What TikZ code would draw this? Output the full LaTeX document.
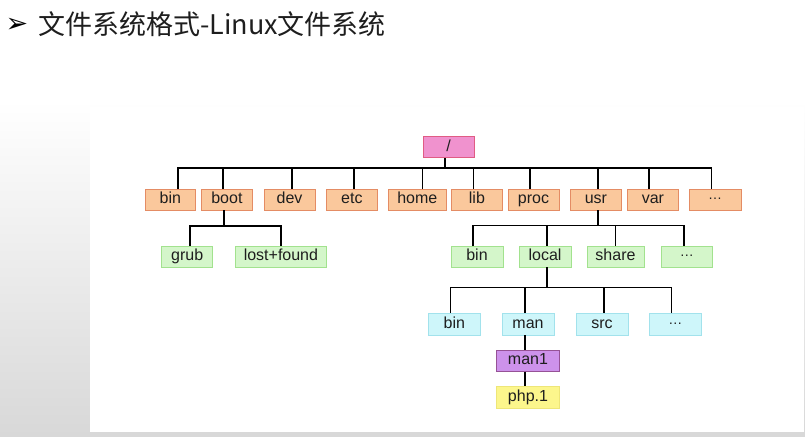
\documentclass[tikz,border=0pt]{standalone}
\usepackage{fontspec}
\setmainfont{Liberation Sans}
\newfontfamily\cjkfont{Noto Sans CJK SC}
\newfontfamily\symfont{DejaVu Sans}
\definecolor{orfill}{RGB}{250,200,156}
\definecolor{ordraw}{RGB}{228,140,100}
\definecolor{grfill}{RGB}{212,246,202}
\definecolor{grdraw}{RGB}{162,226,142}
\definecolor{cyfill}{RGB}{206,246,250}
\definecolor{cydraw}{RGB}{162,226,236}
\definecolor{pkfill}{RGB}{240,146,206}
\definecolor{pkdraw}{RGB}{224,92,132}
\definecolor{pufill}{RGB}{205,146,235}
\definecolor{pudraw}{RGB}{150,82,150}
\definecolor{yefill}{RGB}{252,246,140}
\definecolor{yedraw}{RGB}{238,230,120}
\definecolor{txt}{RGB}{30,30,30}
\definecolor{bggray}{RGB}{216,216,216}
\newcommand{\mydots}{\raisebox{4pt}{\fontsize{14}{14}\selectfont …}}
\begin{document}
\begin{tikzpicture}[x=1pt,y=-1pt,
  box/.style={rectangle, inner sep=0pt, minimum height=21pt, line width=0.9pt,
    font=\fontsize{16}{16}\selectfont, text=txt, text height=11.5pt, text depth=3pt},
  orbox/.style={box, fill=orfill, draw=ordraw},
  grbox/.style={box, fill=grfill, draw=grdraw},
  cybox/.style={box, fill=cyfill, draw=cydraw},
  pkbox/.style={box, fill=pkfill, draw=pkdraw},
  pubox/.style={box, fill=pufill, draw=pudraw},
  yebox/.style={box, fill=yefill, draw=yedraw},
  link/.style={draw=black, line width=1.5pt}]
\useasboundingbox (0,0) rectangle (805,436);
% background
\fill[white] (0,0) rectangle (805,100);
\shade[top color=white, bottom color=bggray] (0,100) rectangle (805,436);
\fill[white] (90,107) rectangle (804,432);
% title
\node[font=\symfont\fontsize{27}{27}\selectfont, inner sep=0pt, text=black] (bullet) at (17,25.5) {➢};
\node[font=\cjkfont\fontsize{27}{27}\selectfont, anchor=base west, inner sep=0pt, text=txt] (title) at (38,35) {文件系统格式-Linux文件系统};
% level 0
\node[pkbox, minimum width=51pt] (root) at (448.5,147.2) {/};
% level 1
\node[orbox, minimum width=50.7pt] (bin) at (170.4,199.5) {bin};
\node[orbox, minimum width=51.7pt] (boot) at (226.9,199.5) {boot};
\node[orbox, minimum width=51pt] (dev) at (289.5,199.5) {dev};
\node[orbox, minimum width=51.7pt] (etc) at (351.9,199.5) {etc};
\node[orbox, minimum width=57.3pt] (home) at (417.3,199.5) {home};
\node[orbox, minimum width=51.7pt] (lib) at (476.9,199.5) {lib};
\node[orbox, minimum width=51pt] (proc) at (533.5,199.5) {proc};
\node[orbox, minimum width=51.7pt] (usr) at (595.9,199.5) {usr};
\node[orbox, minimum width=51.7pt] (var) at (652.9,199.5) {var};
\node[orbox, minimum width=52pt] (dotsa) at (715,199.5) {\mydots};
% level 2
\node[grbox, minimum width=51pt] (grub) at (187.2,256.5) {grub};
\node[grbox, minimum width=91.7pt] (lost) at (280.9,256.5) {lost+found};
\node[grbox, minimum width=52pt] (ubin) at (477,256.5) {bin};
\node[grbox, minimum width=52pt] (local) at (545,256.5) {local};
\node[grbox, minimum width=57pt] (share) at (615.5,256.5) {share};
\node[grbox, minimum width=51.7pt] (dotsb) at (686.9,256.5) {\mydots};
% level 3
\node[cybox, minimum width=52.7pt, minimum height=22pt] (lbin) at (454.4,324) {bin};
\node[cybox, minimum width=52pt, minimum height=22pt] (man) at (528,324) {man};
\node[cybox, minimum width=52pt, minimum height=22pt] (src) at (602,324) {src};
\node[cybox, minimum width=52.7pt, minimum height=22pt] (dotsc) at (675.4,324) {\mydots};
% level 4,5
\node[pubox, minimum width=62.6pt] (manone) at (528,360.7) {man1};
\node[yebox, minimum width=62.6pt, minimum height=21.6pt] (php) at (528,397.5) {php.1};
% buses
\coordinate (busa) at (0,168);
\coordinate (busb) at (0,225.5);
\coordinate (busc) at (0,226);
\coordinate (busd) at (0,287.3);
% root -> level 1
\draw[link] ([xshift=-3.5pt]root.south) -- ([xshift=-3.5pt]root.south |- busa);
\draw[link] ([xshift=7.6pt]bin.north) |- ([xshift=-3.3pt]dotsa.north |- busa) -- ([xshift=-3.3pt]dotsa.north);
\draw[link] ([xshift=-3.9pt]boot.north) -- ([xshift=-3.9pt]boot.north |- busa);
\draw[link] ([xshift=2.5pt]dev.north) -- ([xshift=2.5pt]dev.north |- busa);
\draw[link] ([xshift=2pt]etc.north) -- ([xshift=2pt]etc.north |- busa);
\draw[link] ([xshift=5.4pt]home.north) -- ([xshift=5.4pt]home.north |- busa);
\draw[link] ([xshift=-3.4pt]lib.north) -- ([xshift=-3.4pt]lib.north |- busa);
\draw[link] ([xshift=-3.5pt]proc.north) -- ([xshift=-3.5pt]proc.north |- busa);
\draw[link] ([xshift=2pt]usr.north) -- ([xshift=2pt]usr.north |- busa);
\draw[link] ([xshift=-3.9pt]var.north) -- ([xshift=-3.9pt]var.north |- busa);
% boot -> children
\draw[link] ([xshift=-3pt]boot.south) -- ([xshift=-3pt]boot.south |- busc);
\draw[link] ([xshift=2.8pt]grub.north) |- (lost.north |- busc) -- (lost.north);
% usr -> children
\draw[link] ([xshift=2pt]usr.south) -- ([xshift=2pt]usr.south |- busb);
\draw[link] ([xshift=-4pt]ubin.north) |- ([xshift=-3pt]dotsb.north |- busb) -- ([xshift=-3pt]dotsb.north);
\draw[link] ([xshift=2pt]local.north) -- ([xshift=2pt]local.north |- busb);
\draw[link] (share.north) -- (share.north |- busb);
% local -> children
\draw[link] ([xshift=2pt]local.south) -- ([xshift=2pt]local.south |- busd);
\draw[link] ([xshift=-3.7pt]lbin.north) |- ([xshift=-3.7pt]dotsc.north |- busd) -- ([xshift=-3.7pt]dotsc.north);
\draw[link] ([xshift=-3pt]man.north) -- ([xshift=-3pt]man.north |- busd);
\draw[link] ([xshift=2pt]src.north) -- ([xshift=2pt]src.north |- busd);
% man -> man1 -> php.1
\draw[link] ([xshift=-3pt]man.south) -- ([xshift=-3pt]manone.north);
\draw[link] ([xshift=-3pt]manone.south) -- ([xshift=-3pt]php.north);
\end{tikzpicture}
\end{document}
